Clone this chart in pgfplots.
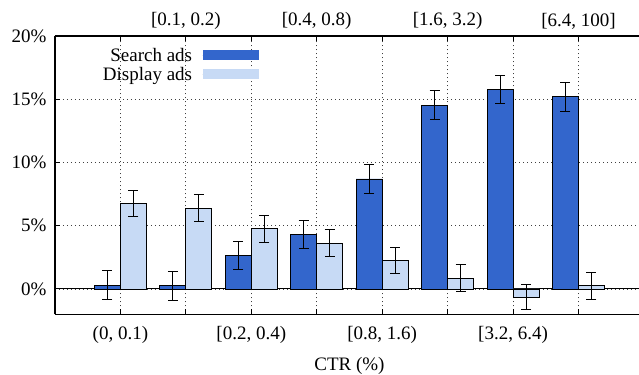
\documentclass[border=0pt]{standalone}
\usepackage{fontspec}
\setmainfont{Liberation Serif}
\usepackage{pgfplots}
\pgfplotsset{compat=1.18}
\definecolor{searchc}{RGB}{51,102,204}
\definecolor{displayc}{RGB}{199,218,245}
\newcommand\cf{\fontsize{19bp}{22bp}\selectfont}
\begin{document}
\begin{tikzpicture}
\begin{axis}[
  name=ax,
  scale only axis,
  width=588.9bp, height=278.3bp,
  xmin=-1, xmax=8, ymin=-2, ymax=20,
  axis x line=box, axis y line=left,
  y axis line style={-},
  ybar=0pt, bar width=26bp,
  xtick={0,2,4,6},
  xticklabels={{(0, 0.1)},{[0.2, 0.4)},{[0.8, 1.6)},{[3.2, 6.4)}},
  xticklabel style={yshift=-8bp},
  extra x ticks={1,3,5,7},
  extra x tick labels={{[0.1, 0.2)},{[0.4, 0.8)},{[1.6, 3.2)},{[6.4, 100]}},
  extra x tick style={xticklabel pos=right, xticklabel style={yshift=11bp}},
  ytick={0,5,10,15,20},
  yticklabels={0\%,5\%,10\%,15\%,20\%},
  yticklabel style={xshift=-5bp},
  extra y ticks={0},
  extra y tick labels={},
  extra y tick style={grid style={solid,black,line width=1bp}, major tick length=0pt},
  xmajorgrids, ymajorgrids,
  grid style={black!75, line width=0.8bp, dash pattern=on 1.2bp off 2.8bp},
  tick align=inside, major tick length=5bp,
  tick style={black, line width=1bp},
  axis line style={line width=1.5bp},
  tick label style={font=\cf},
  label style={font=\cf},
  xlabel={CTR (\%)},
  xlabel style={yshift=-7bp},
  legend style={at={(axis cs:2.12,19.02)}, anchor=north east, draw=none, fill=none,
    font=\cf, inner sep=0pt, column sep=10bp, row sep=0pt,
    nodes={inner sep=0pt, text height=13bp, text depth=6bp}},
  legend plot pos=right, legend cell align=right,
  legend image code/.code={\path (0bp,3bp) -- (56bp,3bp);
    \fill[#1,draw=none,overlay] (0bp,-2bp) rectangle (56bp,8bp);},
  error bars/y dir=both, error bars/y explicit,
  error bars/error bar style={black, line width=1bp},
  error bars/error mark options={rotate=90, mark size=5bp, line width=1bp, black},
]
\addplot[fill=searchc, draw=black, line width=0.8bp] coordinates {
  (0,0.31) +- (0,1.13)
  (1,0.25) +- (0,1.12)
  (2,2.65) +- (0,1.13)
  (3,4.29) +- (0,1.12)
  (4,8.70) +- (0,1.12)
  (5,14.53) +- (0,1.13)
  (6,15.75) +- (0,1.12)
  (7,15.20) +- (0,1.13)
};
\addlegendentry{Search ads}
\addplot[fill=displayc, draw=black, line width=0.8bp] coordinates {
  (0,6.75) +- (0,1.04)
  (1,6.39) +- (0,1.05)
  (2,4.76) +- (0,1.05)
  (3,3.63) +- (0,1.05)
  (4,2.26) +- (0,1.05)
  (5,0.86) +- (0,1.04)
  (6,-0.64) +- (0,1.01)
  (7,0.25) +- (0,1.05)
};
\addlegendentry{Display ads}
\end{axis}
\pgfresetboundingbox
\path[use as bounding box] ([shift={(-55bp,-60.7bp)}]ax.south west) rectangle ([shift={(584bp,314.3bp)}]ax.south west);
\end{tikzpicture}
\end{document}
